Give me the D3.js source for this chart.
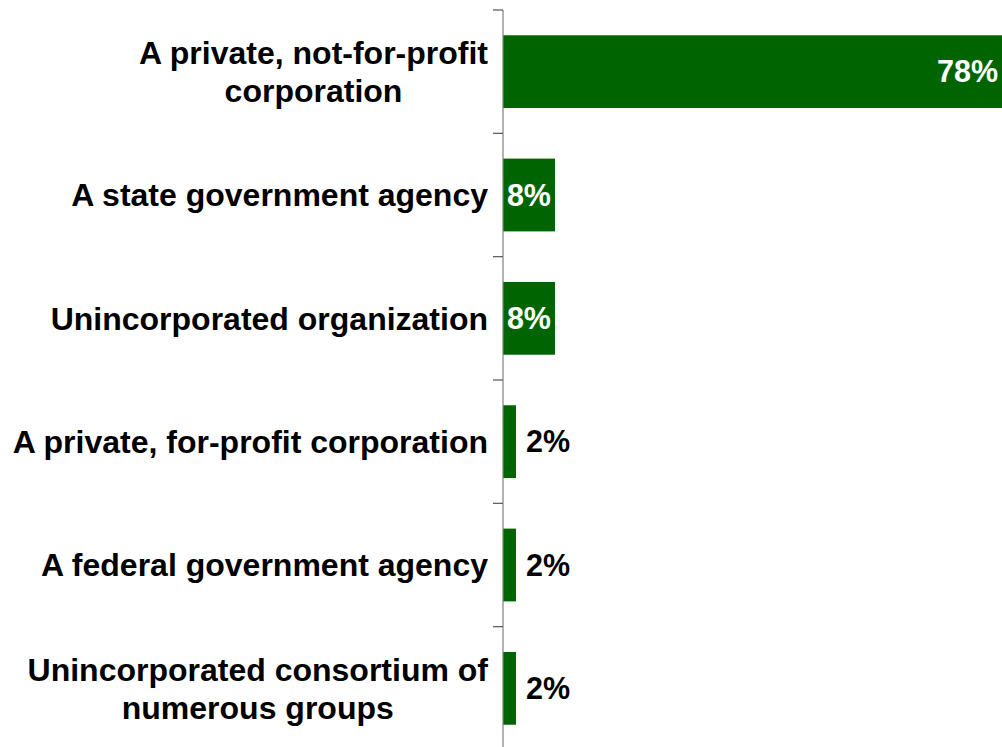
<!DOCTYPE html>
<html>
<head>
<meta charset="utf-8">
<script src="https://cdn.jsdelivr.net/npm/d3@7"></script>
<style>
  html, body { margin: 0; padding: 0; background: #fff; }
  svg { display: block; }
  text { font-family: "Liberation Sans", Arial, sans-serif; font-weight: bold; }
</style>
</head>
<body>
<svg id="chart" width="1002" height="747"></svg>
<script>
// Organization types (each entry is a list of label lines) and their shares (%)
const categories = [
  ["A private, not-for-profit", "corporation"],
  ["A state government agency"],
  ["Unincorporated organization"],
  ["A private, for-profit corporation"],
  ["A federal government agency"],
  ["Unincorporated consortium of", "numerous groups"]
];
const values = [78, 8, 8, 2, 2, 2];

const W = 1002, H = 747;
const axisX = 503;
const barColor = "#006400";
const labelFont = 32;
const valueFont = 30.5;
const lineHeight = 38;

const svg = d3.select("#chart");

const y = d3.scaleBand()
  .domain(d3.range(categories.length))
  .range([10, 750])
  .paddingInner(0.41)
  .paddingOuter(0.205);

const x = d3.scaleLinear()
  .domain([0, 100])
  .range([axisX, axisX + 650]);

// Bars
svg.append("g")
  .selectAll("rect")
  .data(values)
  .join("rect")
  .attr("x", x(0))
  .attr("y", (d, i) => y(i))
  .attr("width", d => x(d) - x(0))
  .attr("height", y.bandwidth())
  .attr("fill", barColor);

// Vertical axis with tick marks at band boundaries
const step = y.step();
const boundaries = d3.range(categories.length + 1).map(i => 10 + i * step);
const axisG = svg.append("g");
axisG.append("line")
  .attr("x1", axisX).attr("x2", axisX)
  .attr("y1", 10).attr("y2", 750)
  .attr("stroke", "#808080").attr("stroke-width", 1.2);
axisG.selectAll("line.tick")
  .data(boundaries)
  .join("line")
  .attr("class", "tick")
  .attr("x1", axisX - 10).attr("x2", axisX)
  .attr("y1", d => d).attr("y2", d => d)
  .attr("stroke", "#555").attr("stroke-width", 1.2);

// Category labels: block right-aligned, lines centred within the block
const labelRight = 488;
categories.forEach((lines, i) => {
  const cy = y(i) + y.bandwidth() / 2;
  const g = svg.append("g");
  const texts = lines.map((line, k) =>
    g.append("text")
      .attr("font-size", labelFont)
      .attr("fill", "#000")
      .attr("dy", "0.35em")
      .attr("y", cy + (k - (lines.length - 1) / 2) * lineHeight)
      .text(line)
  );
  const maxW = d3.max(texts, t => t.node().getComputedTextLength());
  const mid = labelRight - maxW / 2;
  texts.forEach(t => t.attr("x", mid).attr("text-anchor", "middle"));
});

// Value labels: inside (white) for wider bars, outside (black) for narrow ones
svg.append("g")
  .selectAll("text")
  .data(values)
  .join("text")
  .attr("font-size", valueFont)
  .attr("dy", "0.35em")
  .attr("y", (d, i) => y(i) + y.bandwidth() / 2)
  .attr("x", d => d >= 5 ? Math.min(x(d), W) - 4 : x(d) + 10)
  .attr("text-anchor", d => d >= 5 ? "end" : "start")
  .attr("fill", d => d >= 5 ? "#fff" : "#000")
  .text(d => d + "%");
</script>
</body>
</html>
